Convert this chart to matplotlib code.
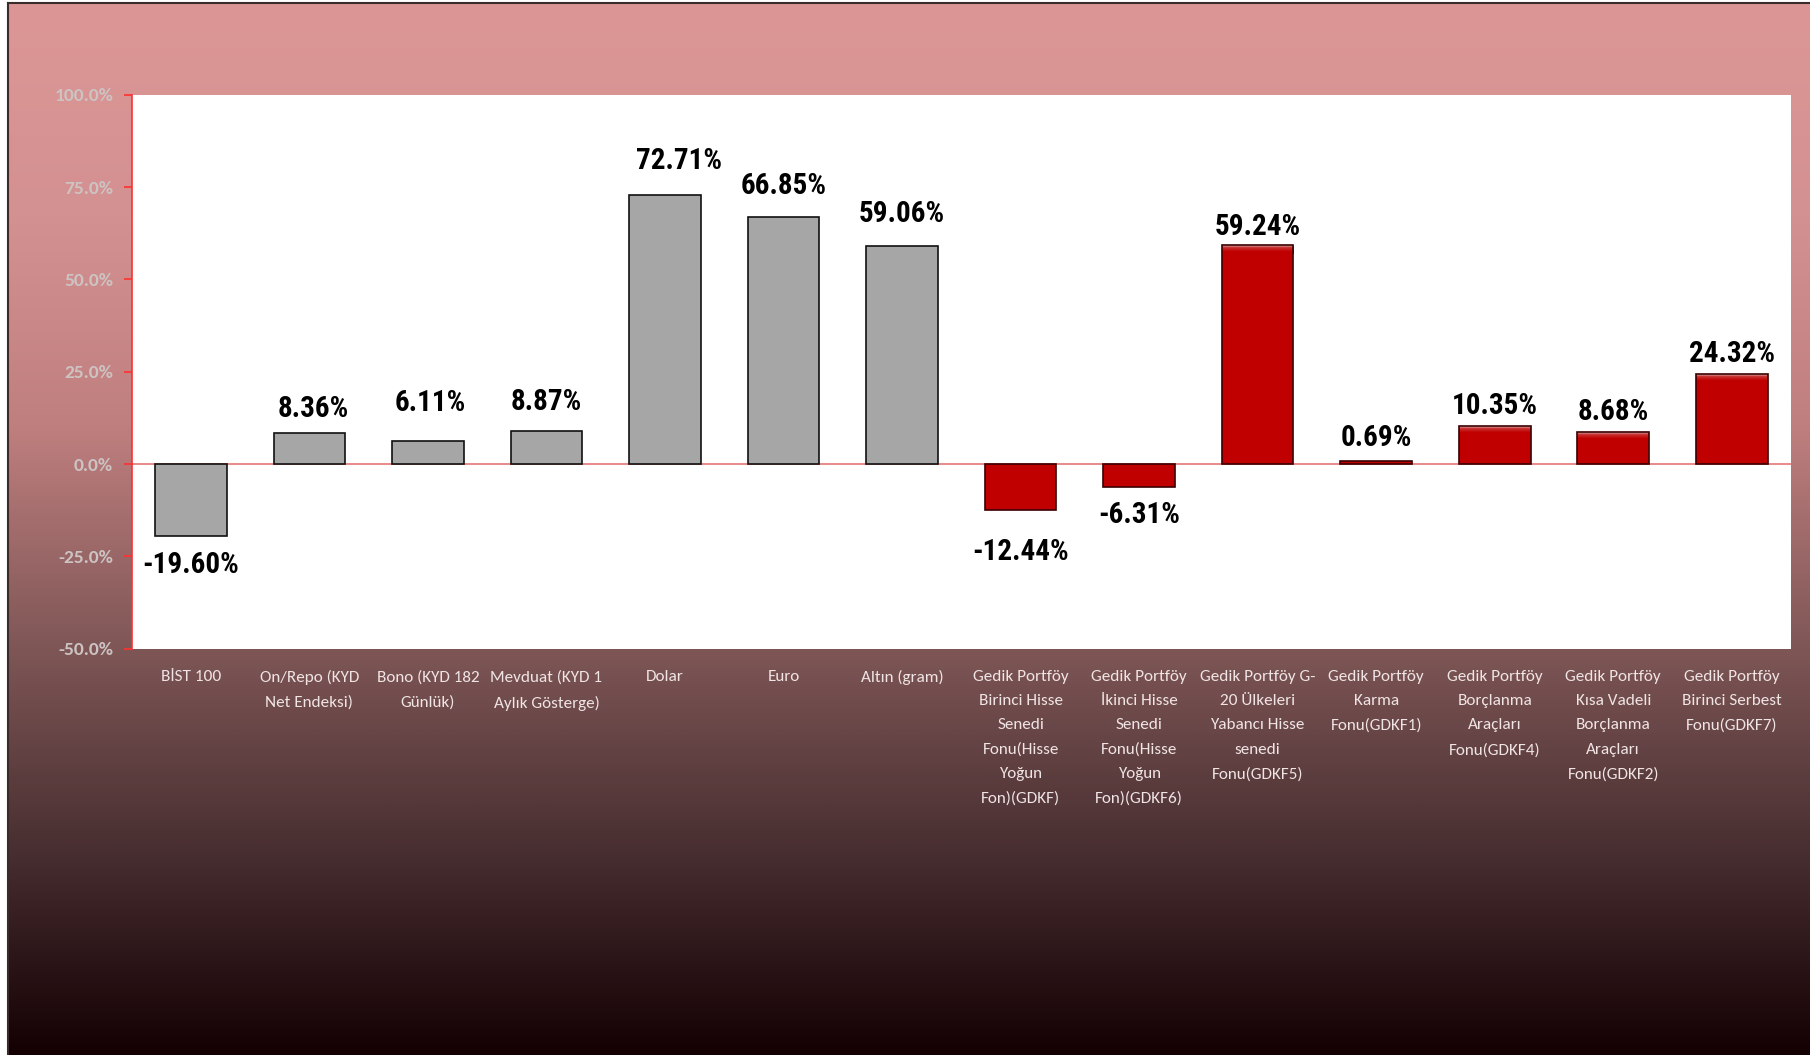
import numpy as np
import matplotlib.pyplot as plt
from matplotlib.colors import LinearSegmentedColormap
from matplotlib.lines import Line2D

########################## data ####################################
categories = ['BİST 100', 'On/Repo (KYD\nNet Endeksi)', 'Bono (KYD 182\nGünlük)',
              'Mevduat (KYD 1\nAylık Gösterge)', 'Dolar', 'Euro', 'Altın (gram)',
              'Gedik Portföy\nBirinci Hisse\nSenedi\nFonu(Hisse\nYoğun\nFon)(GDKF)',
              'Gedik Portföy\nİkinci Hisse\nSenedi\nFonu(Hisse\nYoğun\nFon)(GDKF6)',
              'Gedik Portföy G-\n20 Ülkeleri\nYabancı Hisse\nsenedi\nFonu(GDKF5)',
              'Gedik Portföy\nKarma\nFonu(GDKF1)',
              'Gedik Portföy\nBorçlanma\nAraçları\nFonu(GDKF4)',
              'Gedik Portföy\nKısa Vadeli\nBorçlanma\nAraçları\nFonu(GDKF2)',
              'Gedik Portföy\nBirinci Serbest\nFonu(GDKF7)']
values = [-19.60, 8.36, 6.11, 8.87, 72.71, 66.85, 59.06,
          -12.44, -6.31, 59.24, 0.69, 10.35, 8.68, 24.32]
is_fund = [False]*7 + [True]*7
yticks = [-50, -25, 0, 25, 50, 75, 100]

# label placement (pixels from bar end to label centre), hand tuned
lab_dy = [25, 28, 42, 33, 38, 35, 35, 39, 24, 22, 27, 23, 23, 24]
lab_dx = [0, 4, 2, 0, 14, 0, 0, 0, 0, 0, 0, 0, 0, 0]

CALIBRI = ['Carlito', 'Lato', 'DejaVu Sans']
NARROW = ['Roboto Condensed', 'Archivo Narrow', 'Liberation Sans']

W, H = 1810, 1055
fig = plt.figure(figsize=(W/100, H/100), dpi=100)
fig.patch.set_facecolor('white')

########################## background ####################################
stops = [(0.0, (220, 150, 150)), (0.2, (212, 145, 145)), (0.4, (192, 127, 127)),
         (0.62, (125, 85, 85)), (0.8, (74, 48, 50)), (1.0, (20, 0, 3))]
bgmap = LinearSegmentedColormap.from_list('bg', [(p, tuple(c/255 for c in rgb)) for p, rgb in stops])
bg = fig.add_axes([8/W, 0, 1-8/W, 1-3/H])
bg.imshow(np.linspace(0, 1, 512).reshape(-1, 1), aspect='auto', cmap=bgmap,
          extent=[0, 1, 0, 1], origin='upper')
bg.axis('off')
fig.add_artist(Line2D([8/W, 8/W], [0, 1-3/H], color='#3b2b2b', lw=1.5))
fig.add_artist(Line2D([8/W, 1], [1-3/H, 1-3/H], color='#3b2b2b', lw=1.5))

########################## chart ####################################
ax = fig.add_axes([131.6/W, (H-648.7)/H, (1791-131.6)/W, (648.7-94.7)/H])
ax.set_facecolor('white')
x = np.arange(len(values))
w = 0.605
colors = ['#c00000' if f else '#a6a6a6' for f in is_fund]
edges = ['#3a0000' if f else '#111111' for f in is_fund]
ax.bar(x, values, width=w, color=colors, edgecolor='none', zorder=3)

# faded top on the red bars
topmap = LinearSegmentedColormap.from_list('top', [(0, '#c00000'), (0.3, '#c00000'),
                                                   (0.75, '#c93434'), (1, '#dcc6c6')])
for i, v in enumerate(values):
    if is_fund[i] and v > 2:
        ax.imshow(np.linspace(0, 1, 64).reshape(-1, 1), cmap=topmap, aspect='auto',
                  origin='lower', extent=(i-w/2, i+w/2, v-2.4, v), zorder=3.5)
ax.bar(x, values, width=w, fill=False, edgecolor=edges, linewidth=1.2, zorder=4)

ax.axhline(0, color='#e57575', lw=1.2, zorder=2)

for i, v in enumerate(values):
    dy = lab_dy[i] if v >= 0 else -lab_dy[i]
    dy = (dy - 3.5) * 0.72
    ax.annotate(f'{v:.2f}%', xy=(i, v), xytext=(lab_dx[i]*0.72, dy), textcoords='offset points',
                ha='center', va='center', fontsize=21, fontweight='bold', color='black',
                family=NARROW, zorder=5)

ax.set_xlim(-0.5, len(values)-0.5)
ax.set_ylim(-50, 100)
ax.set_yticks(yticks)
ax.set_yticklabels([f'{t:.1f}%' for t in yticks], fontsize=14, fontweight='bold',
                   color='#cdc3c3', family=CALIBRI)
ax.tick_params(axis='y', direction='out', length=5.8, width=1.2, color='#ff3030', pad=7.5)
ax.set_xticks(x)
ax.set_xticklabels(categories, fontsize=12.3, color='#f0e4e4', family=CALIBRI, linespacing=1.92)
ax.tick_params(axis='x', length=0, pad=15.5)
for s in ['top', 'right', 'bottom']:
    ax.spines[s].set_visible(False)
ax.spines['left'].set_color('#ff3030')
ax.spines['left'].set_linewidth(1.2)

plt.savefig('out.png', dpi=100)
